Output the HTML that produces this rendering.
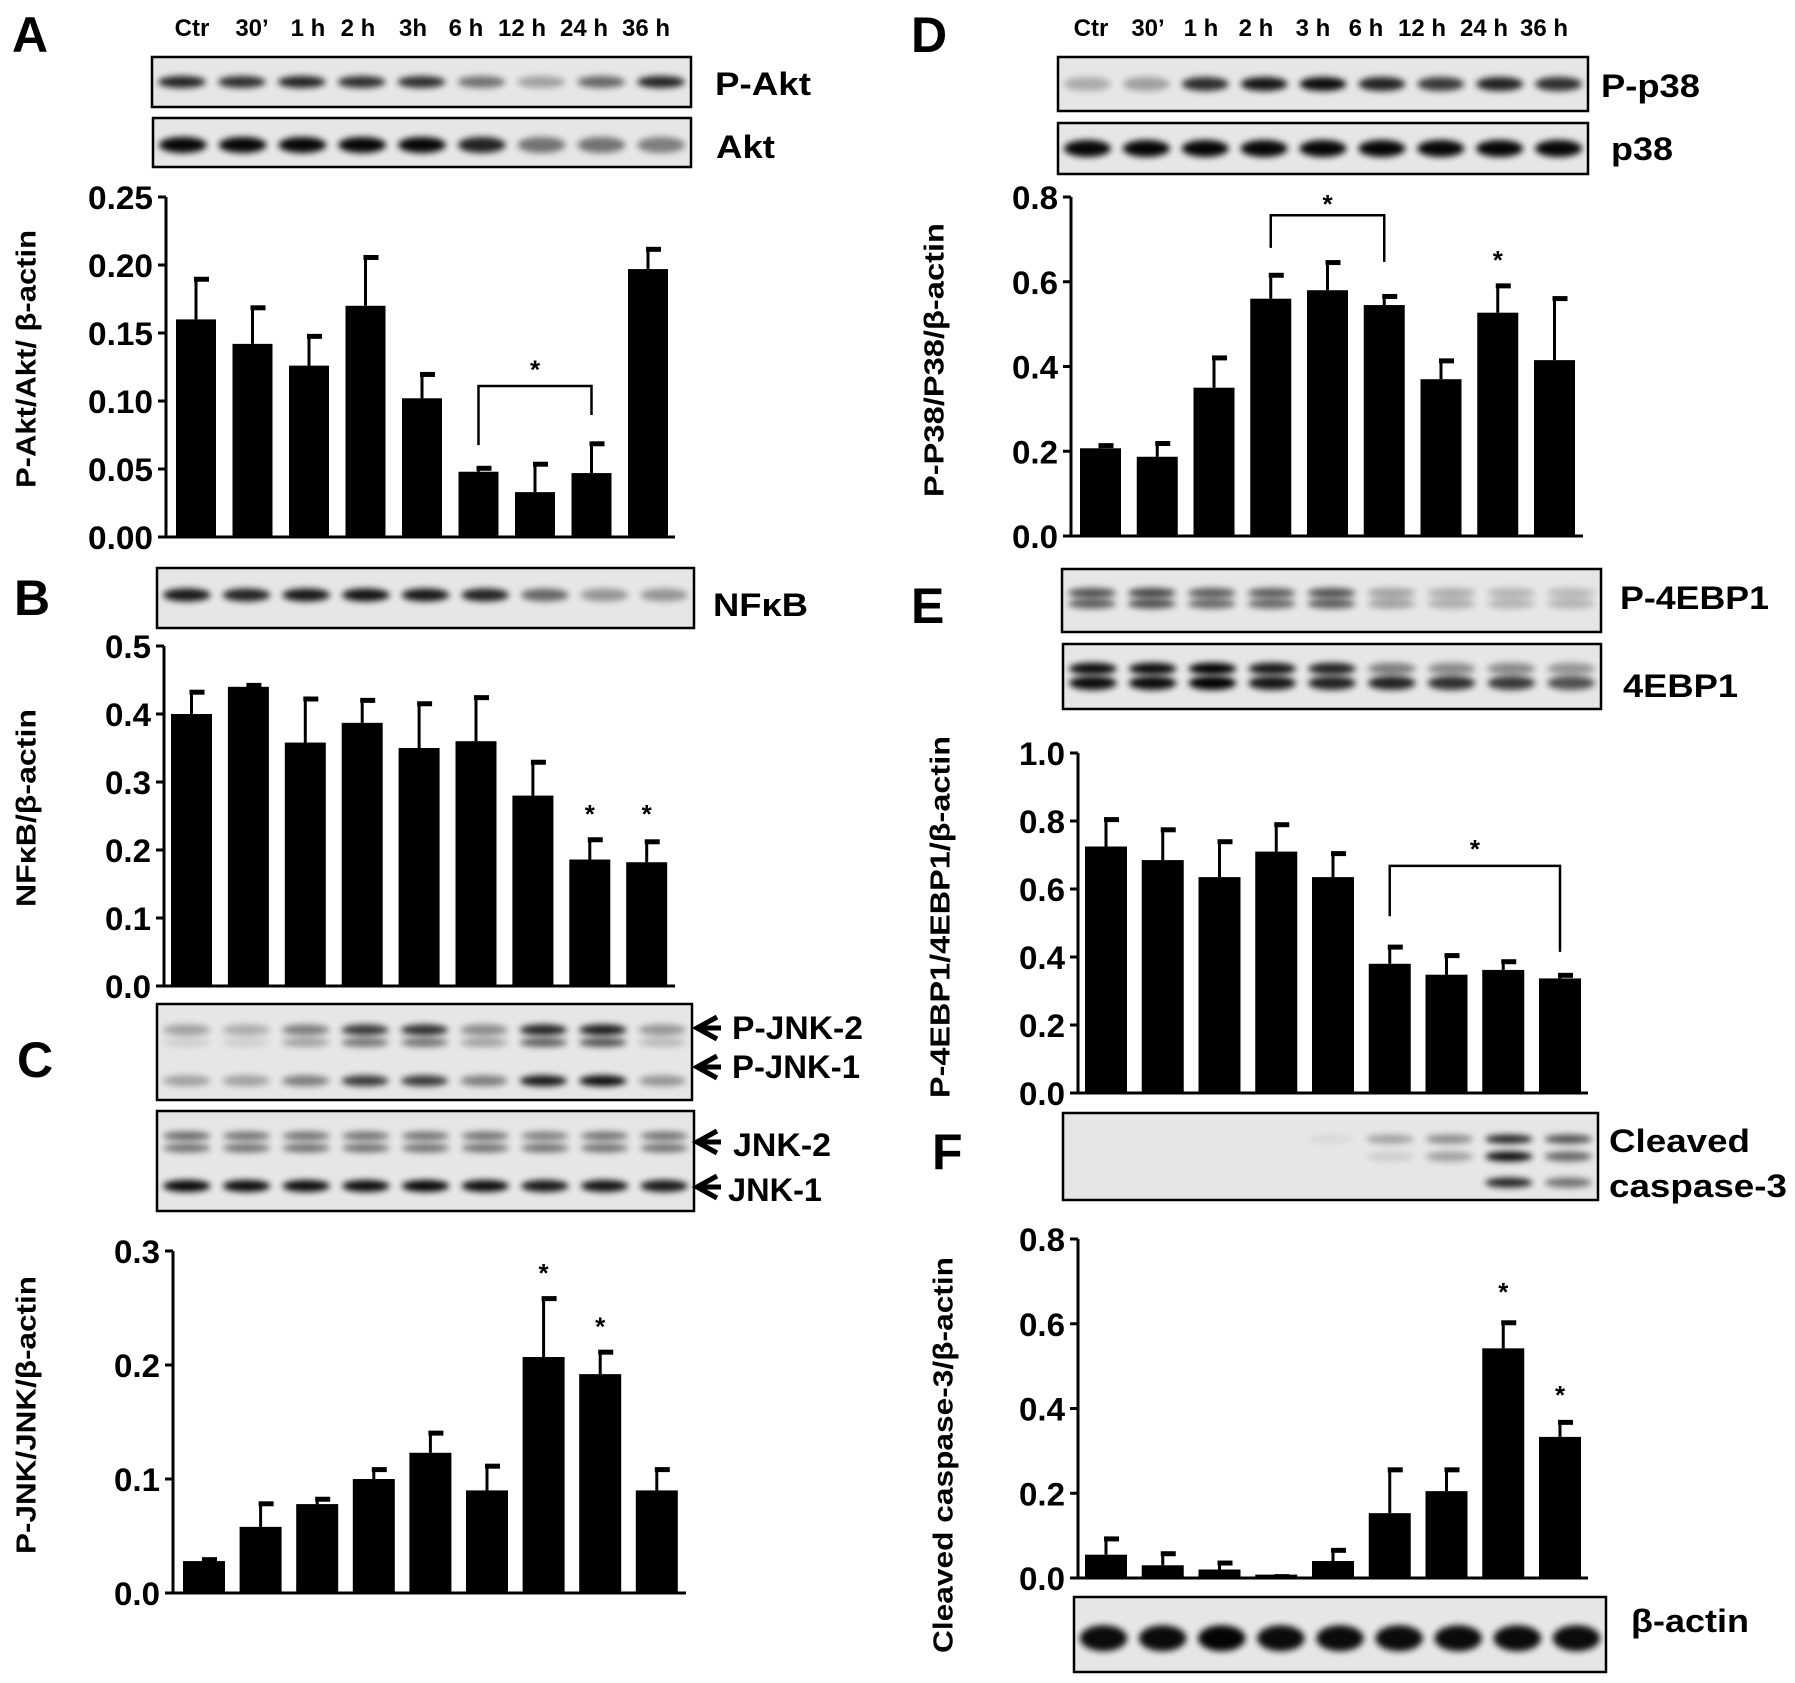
<!DOCTYPE html>
<html><head><meta charset="utf-8"><title>Western blot time course</title>
<style>
html,body{margin:0;padding:0;background:#fff;}
svg{display:block;font-family:"Liberation Sans",Arial,sans-serif;}
</style></head>
<body>
<svg id="fig" xmlns="http://www.w3.org/2000/svg" width="1795" height="1683" viewBox="0 0 1795 1683">
<defs>
<filter id="blur" x="-50%" y="-100%" width="200%" height="300%"><feGaussianBlur stdDeviation="3.2"/></filter>
</defs>
</svg>
<script>
// ---------- data ----------
const categories = ["Ctr","30\u2019","1 h","2 h","3h","6 h","12 h","24 h","36 h"];
const categoriesD = ["Ctr","30\u2019","1 h","2 h","3 h","6 h","12 h","24 h","36 h"];

const aktValues = [0.160,0.142,0.126,0.170,0.102,0.048,0.033,0.047,0.197];
const aktErrTop = [0.191,0.170,0.149,0.207,0.121,0.052,0.055,0.070,0.213];
const aktTicks = [0,0.05,0.10,0.15,0.20,0.25];
const aktTickLabels = ["0.00","0.05","0.10","0.15","0.20","0.25"];

const nfkbValues = [0.400,0.440,0.358,0.387,0.350,0.360,0.280,0.186,0.182];
const nfkbErrTop = [0.435,0.445,0.425,0.423,0.418,0.427,0.332,0.218,0.215];
const nfkbTicks = [0,0.1,0.2,0.3,0.4,0.5];
const nfkbTickLabels = ["0.0","0.1","0.2","0.3","0.4","0.5"];

const jnkValues = [0.028,0.058,0.078,0.100,0.123,0.090,0.207,0.192,0.090];
const jnkErrTop = [0.031,0.080,0.084,0.110,0.142,0.113,0.260,0.213,0.110];
const jnkTicks = [0,0.1,0.2,0.3];
const jnkTickLabels = ["0.0","0.1","0.2","0.3"];

const p38Values = [0.207,0.187,0.350,0.560,0.580,0.545,0.370,0.527,0.415];
const p38ErrTop = [0.218,0.223,0.425,0.620,0.650,0.570,0.418,0.595,0.565];
const p38Ticks = [0,0.2,0.4,0.6,0.8];
const p38TickLabels = ["0.0","0.2","0.4","0.6","0.8"];

const ebpValues = [0.725,0.685,0.635,0.710,0.635,0.380,0.348,0.362,0.337];
const ebpErrTop = [0.810,0.780,0.745,0.795,0.710,0.435,0.410,0.392,0.352];
const ebpTicks = [0,0.2,0.4,0.6,0.8,1.0];
const ebpTickLabels = ["0.0","0.2","0.4","0.6","0.8","1.0"];

const caspValues = [0.055,0.030,0.020,0.008,0.040,0.153,0.205,0.542,0.333];
const caspErrTop = [0.097,0.062,0.040,0.008,0.070,0.260,0.260,0.607,0.372];
const caspTicks = [0,0.2,0.4,0.6,0.8];
const caspTickLabels = ["0.0","0.2","0.4","0.6","0.8"];

// ---------- helpers ----------
const NS = "http://www.w3.org/2000/svg";
const svg = document.getElementById("fig");
function mk(tag, attrs, parent){
  const e = document.createElementNS(NS, tag);
  for (const k in attrs) e.setAttribute(k, attrs[k]);
  (parent||svg).appendChild(e);
  return e;
}
function txt(s, attrs, parent){
  const t = mk("text", attrs, parent);
  t.textContent = s;
  return t;
}
function tickLen(s){ let w=0; for (const c of s) w += (c==="."?8:19); return w; }

// ---------- panel letters ----------
const letters = [["A",12,52],["B",14,615],["C",17,1077],["D",911,52],["E",911,623],["F",932,1169]];
letters.forEach(l=>{
  const t = txt(l[0], {x:l[1], y:l[2], "font-size":50, "font-weight":"bold", fill:"#000"});
  
  
});

// ---------- lane labels ----------
const laneXA = [192,252,308,358,413,466,522,584,646];
const laneXD = [1091,1148,1201,1256,1313,1366,1422,1484,1544];
categories.forEach((c,i)=>{
  const t = txt(c, {x:laneXA[i], y:36, "text-anchor":"middle", "font-size":24, "font-weight":"bold"});
  
  
});
categoriesD.forEach((c,i)=>{
  const t = txt(c, {x:laneXD[i], y:36, "text-anchor":"middle", "font-size":24, "font-weight":"bold"});
  
  
});

// ---------- blots ----------
function blot(name, x, y, w, h, bands){
  const g = mk("g", {});
  
  
  mk("rect", {x:x, y:y, width:w, height:h, fill:"#e6e6e6"}, g);
  const lw = w/9;
  bands.forEach(b=>{
    b.v.forEach((a,i)=>{
      if (a<=0) return;
      const cx = x + lw*(i+0.5);
      mk("ellipse", {cx:cx, cy:y+h*b.y, rx:lw*0.40, ry:b.h/2, fill:"#000", opacity:a, filter:"url(#blur)"}, g);
    });
  });
  mk("rect", {x:x, y:y, width:w, height:h, fill:"none", stroke:"#000", "stroke-width":2.5}, g);
  return g;
}
function label(s, x, y, len, name){
  const t = txt(s, {x:x, y:y, "font-size":32, "font-weight":"bold", "dominant-baseline":"central", textLength:len, lengthAdjust:"spacingAndGlyphs"});
  
  
}
function arrow(x, y, name){
  const p = mk("path", {d:`M${x+24},${y-11} L${x+4},${y} L${x+24},${y+11} M${x+4},${y} L${x+28},${y}`, stroke:"#000", "stroke-width":5, fill:"none"});
  
  
}

blot("p-akt-blot",152,57,539,50,[{y:0.5,h:12,v:[.85,.8,.85,.8,.8,.5,.3,.55,.85]}]);
label("P-Akt",715,84,96,"p-akt-label");
blot("akt-blot",153,118,538,49,[{y:0.55,h:16,v:[.97,.97,.97,.97,.97,.85,.5,.5,.45]}]);
label("Akt",716,147,59,"akt-label");
blot("nfkb-blot",157,568,537,60,[{y:0.45,h:13,v:[.9,.85,.9,.92,.9,.85,.55,.35,.35]}]);
label("NF\u03baB",713,605,95,"nfkb-label");
blot("p-jnk-blot",157,1004,535,96,[{y:0.27,h:11,v:[.3,.25,.45,.75,.8,.4,.85,.88,.35]},{y:0.4,h:9,v:[.1,.1,.3,.5,.5,.3,.6,.65,.2]},{y:0.8,h:11,v:[.3,.3,.45,.75,.75,.45,.9,.95,.35]}]);
arrow(693,1028,"p-jnk-2-arrow"); label("P-JNK-2",732,1028,131,"p-jnk-2-label");
arrow(693,1067,"p-jnk-1-arrow"); label("P-JNK-1",732,1067,128,"p-jnk-1-label");
blot("jnk-blot",157,1111,537,100,[{y:0.25,h:9,v:[.55,.5,.5,.5,.5,.5,.45,.5,.5]},{y:0.37,h:9,v:[.5,.5,.5,.5,.5,.5,.5,.5,.5]},{y:0.75,h:12,v:[.97,.95,.95,.95,.97,.95,.9,.92,.9]}]);
arrow(693,1142,"jnk-2-arrow"); label("JNK-2",733,1145,98,"jnk-2-label");
arrow(693,1187,"jnk-1-arrow"); label("JNK-1",728,1190,94,"jnk-1-label");

blot("p-p38-blot",1058,57,530,54,[{y:0.5,h:14,v:[.25,.3,.8,.9,.95,.85,.75,.85,.8]}]);
label("P-p38",1601,86,99,"p-p38-label");
blot("p38-blot",1058,123,530,51,[{y:0.5,h:17,v:[.97,.97,.97,.97,.97,.97,.97,.97,.97]}]);
label("p38",1611,149,62,"p38-label");
blot("p-4ebp1-blot",1062,569,539,63,[{y:0.38,h:10,v:[.65,.7,.6,.6,.65,.3,.25,.22,.2]},{y:0.55,h:10,v:[.6,.65,.55,.55,.6,.3,.25,.22,.22]}]);
label("P-4EBP1",1620,598,149,"p-4ebp1-label");
blot("4ebp1-blot",1063,644,538,65,[{y:0.38,h:12,v:[.95,.95,1,.9,.85,.45,.4,.4,.35]},{y:0.6,h:14,v:[.95,.95,1,.9,.85,.85,.8,.75,.65]}]);
label("4EBP1",1623,686,115,"4ebp1-label");
blot("cleaved-caspase-3-blot",1063,1113,535,87,[{y:0.3,h:9,v:[0,0,0,0,.05,.3,.4,.85,.65]},{y:0.5,h:10,v:[0,0,0,0,0,.1,.3,.95,.55]},{y:0.8,h:10,v:[0,0,0,0,0,0,0,.85,.5]}]);
label("Cleaved",1609,1141,141,"cleaved-label");
label("caspase-3",1609,1186,178,"caspase-3-label");
blot("beta-actin-blot",1074,1597,532,75,[{y:0.55,h:26,v:[.95,.95,.98,.95,.95,.95,.95,.95,.95]}]);
label("\u03b2-actin",1631,1621,118,"beta-actin-label");

// ---------- charts ----------
function chart(cfg){
  const g = mk("g", {});
  
  
  const ymax = cfg.ticks[cfg.ticks.length-1];
  const y = v => cfg.y0 - v/ymax*(cfg.y0-cfg.yt);
  const xc = i => cfg.bx0 + i*cfg.pitch + cfg.bw/2;
  cfg.values.forEach((v,i)=>{
    const top = y(cfg.err[i]);
    const ev = mk("line", {x1:xc(i), x2:xc(i), y1:y(v), y2:top, stroke:"#000", "stroke-width":3}, g);
    
    
    const cap = mk("line", {x1:xc(i)-2, x2:xc(i)+13, y1:top+2, y2:top+2, stroke:"#000", "stroke-width":5}, g);
    
    
    const b = mk("rect", {x:cfg.bx0+i*cfg.pitch, y:y(v), width:cfg.bw, height:cfg.y0-y(v), fill:"#000"}, g);
    
    
  });
  const ya = mk("line", {x1:cfg.ax, x2:cfg.ax, y1:cfg.yt, y2:cfg.y0+1.5, stroke:"#000", "stroke-width":3}, g);
  
  
  const xa = mk("line", {x1:cfg.ax-1.5, x2:cfg.xEnd, y1:cfg.y0, y2:cfg.y0, stroke:"#000", "stroke-width":3}, g);
  
  
  cfg.ticks.forEach((t,i)=>{
    const tk = mk("line", {x1:cfg.ax-8, x2:cfg.ax, y1:y(t), y2:y(t), stroke:"#000", "stroke-width":3}, g);
    
    
    const s = cfg.tickLabels[i];
    const tl = txt(s, {x:cfg.ax-13, y:y(t)+12, "text-anchor":"end", "font-size":32, "font-weight":"bold", textLength:tickLen(s), lengthAdjust:"spacingAndGlyphs"}, g);
    
    
  });
  const tt = txt(cfg.title, {x:0, y:0, "text-anchor":"middle", "dominant-baseline":"central", "font-size":28, "font-weight":"bold", textLength:cfg.tlen, lengthAdjust:"spacingAndGlyphs", transform:`translate(${cfg.tx},${cfg.ty}) rotate(-90)`}, g);
  
  
  (cfg.stars||[]).forEach(s=>{
    const st = txt("*", {x:xc(s[0]), y:y(s[1])+14, "text-anchor":"middle", "font-size":26, "font-weight":"bold"}, g);
    
    
  });
  if (cfg.bracket){
    const k = cfg.bracket;
    const br = mk("path", {d:`M${xc(k[0])},${y(k[3])} L${xc(k[0])},${y(k[2])} L${xc(k[1])},${y(k[2])} L${xc(k[1])},${y(k[4])}`, fill:"none", stroke:"#000", "stroke-width":2.5}, g);
    
    
    const st = txt("*", {x:(xc(k[0])+xc(k[1]))/2, y:y(k[5])+14, "text-anchor":"middle", "font-size":26, "font-weight":"bold"}, g);
    
    
  }
}

chart({name:"chart-a-p-akt", ax:166, y0:537, yt:197, bx0:176, pitch:56.5, bw:40, xEnd:675,
  values:aktValues, err:aktErrTop, ticks:aktTicks, tickLabels:aktTickLabels,
  title:"P-Akt/Akt/ \u03b2-actin", tx:26, ty:359, tlen:258, bracket:[5,7,0.111,0.0676,0.0897,0.127]});
chart({name:"chart-b-nfkb", ax:164, y0:986, yt:646, bx0:171, pitch:56.9, bw:41, xEnd:675,
  values:nfkbValues, err:nfkbErrTop, ticks:nfkbTicks, tickLabels:nfkbTickLabels,
  title:"NF\u03baB/\u03b2-actin", tx:26, ty:808, tlen:198, stars:[[7,0.26],[8,0.26]]});
chart({name:"chart-c-p-jnk", ax:173, y0:1593, yt:1251, bx0:183, pitch:56.6, bw:42, xEnd:686,
  values:jnkValues, err:jnkErrTop, ticks:jnkTicks, tickLabels:jnkTickLabels,
  title:"P-JNK/JNK/\u03b2-actin", tx:26, ty:1415, tlen:278, stars:[[6,0.285],[7,0.238]]});
chart({name:"chart-d-p-p38", ax:1071, y0:536, yt:197, bx0:1080, pitch:56.75, bw:41, xEnd:1583,
  values:p38Values, err:p38ErrTop, ticks:p38Ticks, tickLabels:p38TickLabels,
  title:"P-P38/P38/\u03b2-actin", tx:934, ty:360, tlen:274, stars:[[7,0.663]], bracket:[3,5,0.757,0.68,0.647,0.795]});
chart({name:"chart-e-p-4ebp1", ax:1078, y0:1093, yt:753, bx0:1085, pitch:56.75, bw:42, xEnd:1588,
  values:ebpValues, err:ebpErrTop, ticks:ebpTicks, tickLabels:ebpTickLabels,
  title:"P-4EBP1/4EBP1/\u03b2-actin", tx:940, ty:917, tlen:362, bracket:[5,8,0.668,0.52,0.415,0.732]});
chart({name:"chart-f-cleaved-caspase-3", ax:1078, y0:1578, yt:1239, bx0:1085, pitch:56.75, bw:42, xEnd:1588,
  values:caspValues, err:caspErrTop, ticks:caspTicks, tickLabels:caspTickLabels,
  title:"Cleaved caspase-3/\u03b2-actin", tx:943, ty:1455, tlen:396, stars:[[7,0.687],[8,0.444]]});
</script>
</body></html>
